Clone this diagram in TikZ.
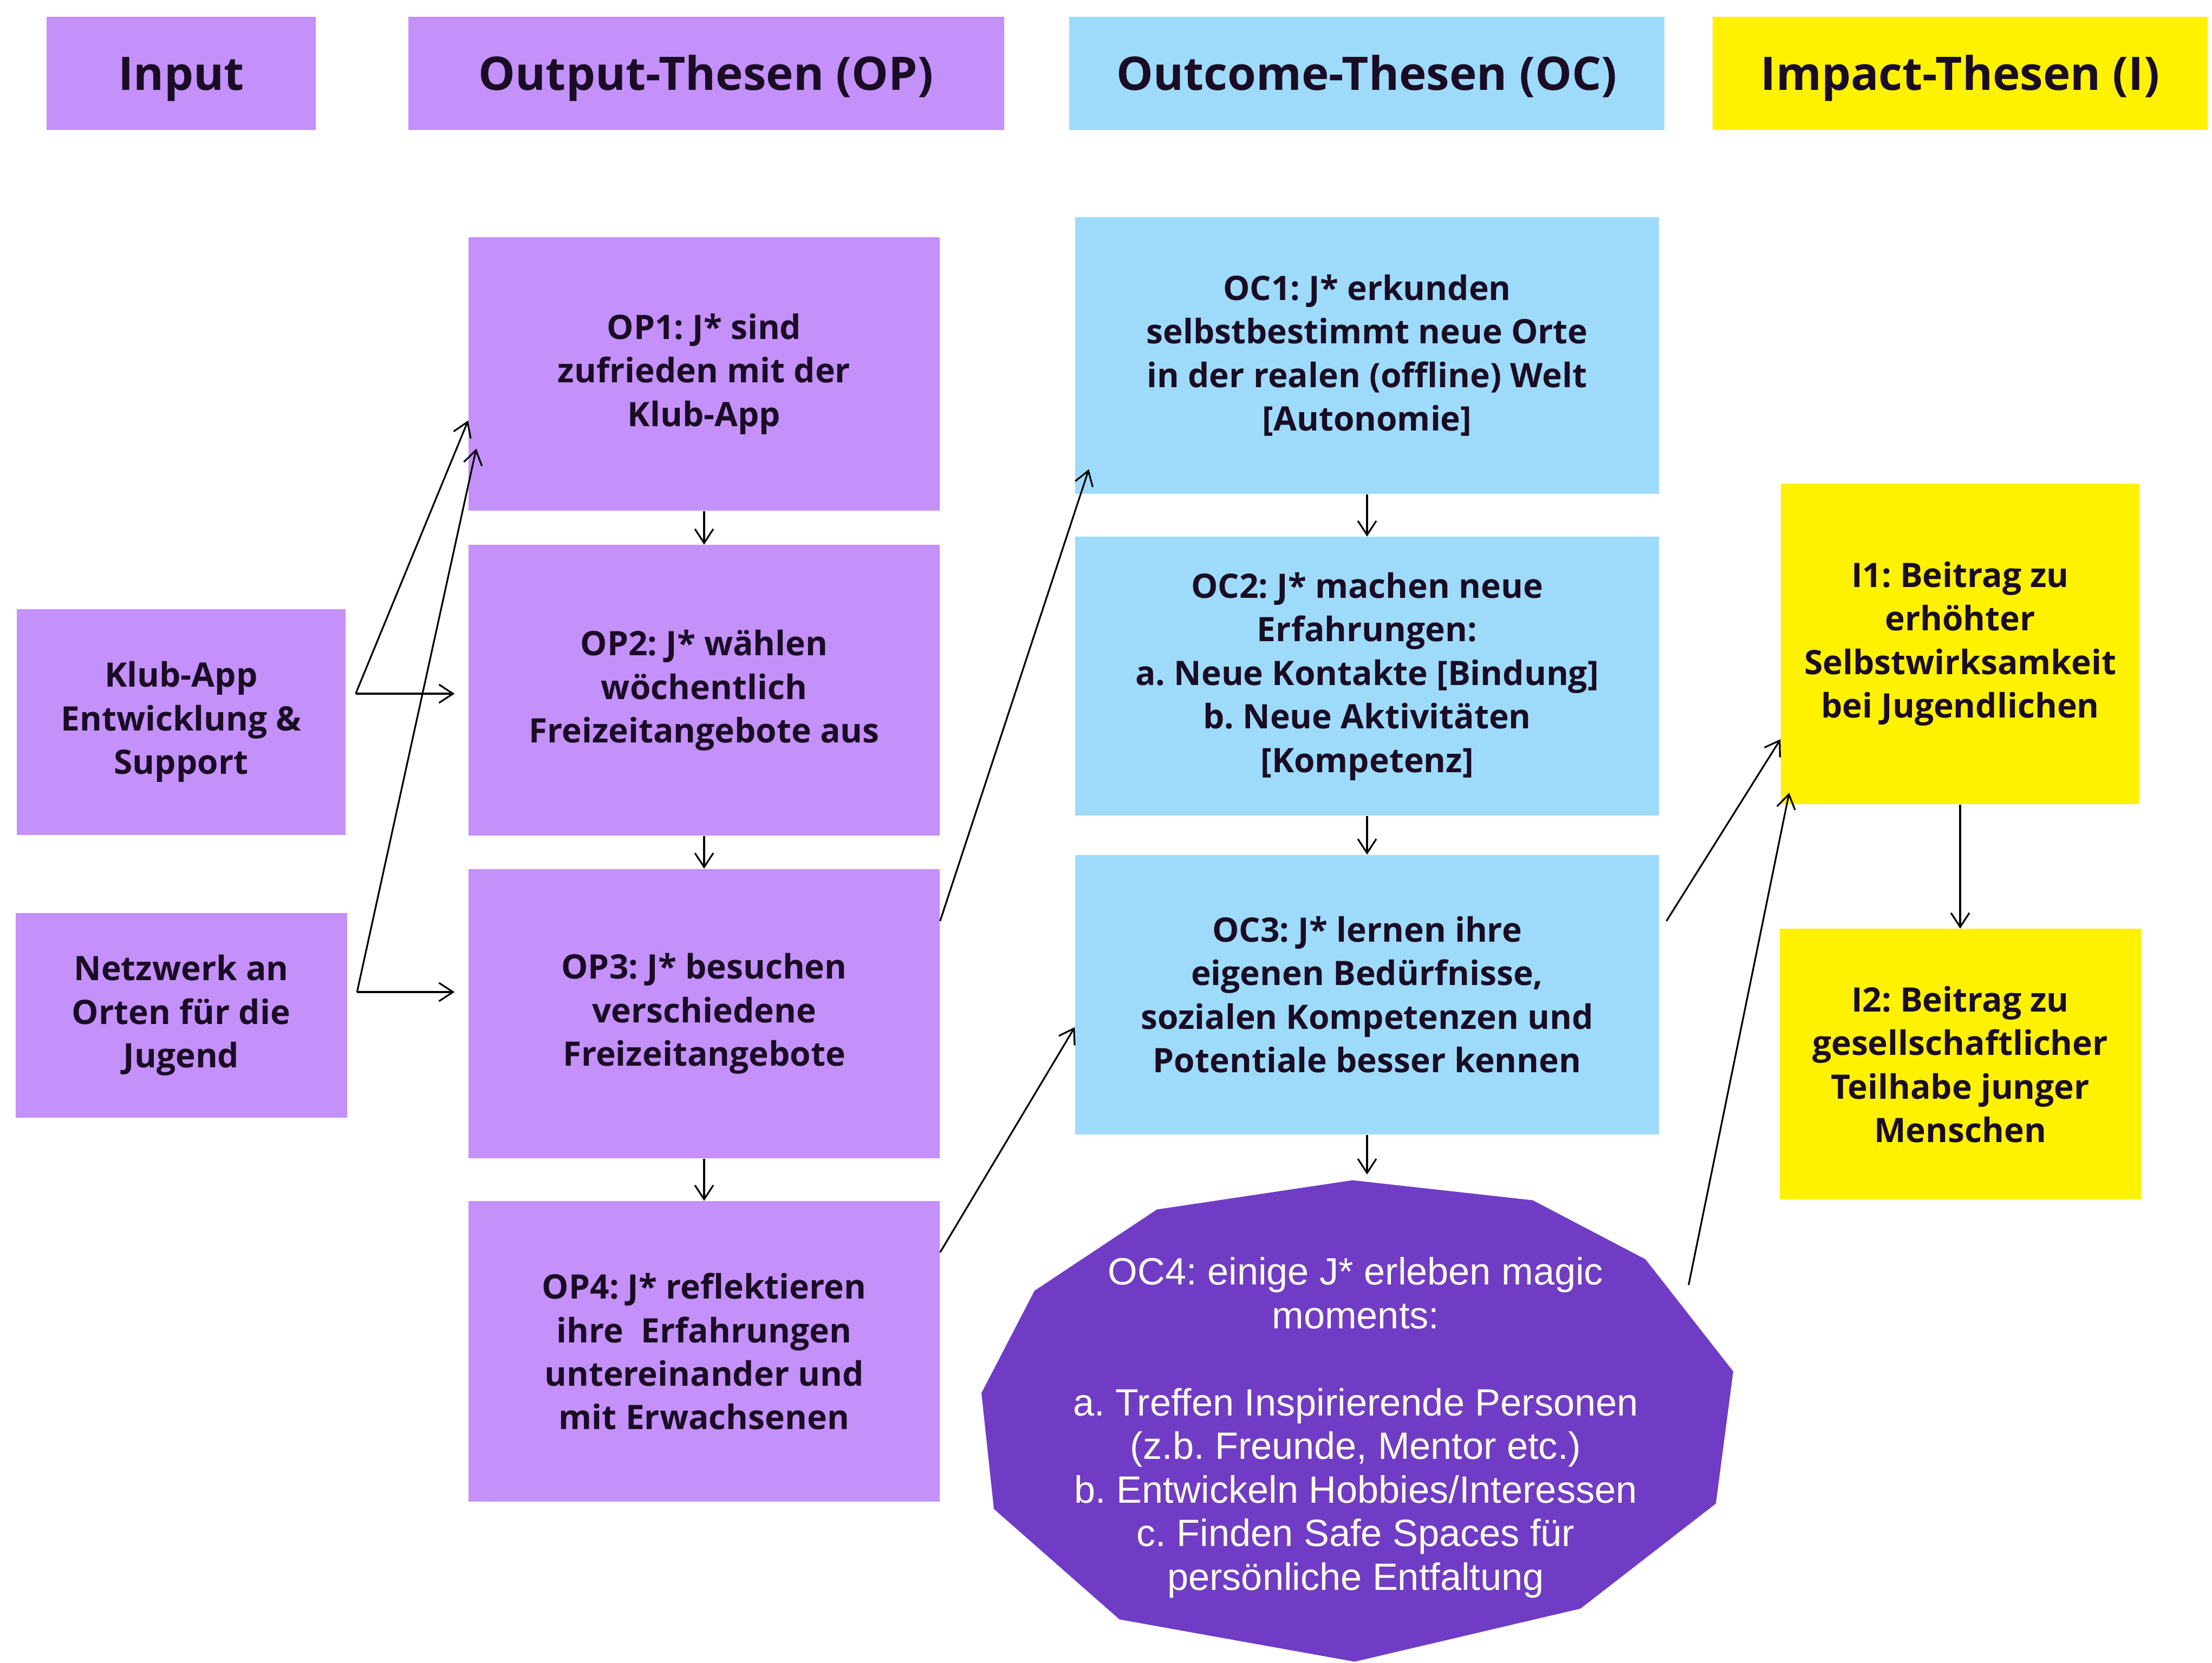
\documentclass[tikz,border=0pt]{standalone}
\usepackage{fontspec}
\setmainfont{Open Sans}
\newfontfamily\magicfont{Liberation Sans}
\usetikzlibrary{shapes,arrows.meta,positioning,calc}
\definecolor{oplila}{RGB}{196,144,250}
\definecolor{ocblau}{RGB}{158,219,250}
\definecolor{impactgelb}{RGB}{255,242,0}
\definecolor{magiclila}{RGB}{112,60,198}
\definecolor{schrift}{RGB}{26,12,36}
\definecolor{magicschrift}{RGB}{255,253,235}
\frenchspacing
\tikzset{
    head/.style={rectangle, inner sep=0pt, minimum height=2.09cm, text height=0.8cm, text depth=0.17cm, text=schrift, font=\fontsize{24.3}{28}\selectfont\bfseries},
    block/.style={rectangle, inner sep=0pt, align=center, text=schrift, font=\fontsize{17.7}{22.9}\selectfont\bfseries},
    magic/.style={rectangle, inner sep=0pt, align=center, minimum width=13.9cm, minimum height=8.2cm, text=magicschrift, font=\magicfont\fontsize{20}{22.9}\selectfont},
    line/.style={draw, line width=0.9pt, -{Straight Barb[length=2.6mm,width=3.4mm]}}
}

\begin{document}
\begin{tikzpicture}
    \fill[white] (0,0) rectangle (40.84,-30.70);
    \useasboundingbox (0,0) rectangle (40.84,-30.70);

    % Headers
    \node [head, fill=oplila, minimum width=4.97cm] (hin) at (3.345,-1.35) {Input};
    \node [head, fill=oplila, minimum width=11.0cm] (hop) at (13.035,-1.35) {Output-Thesen (OP)};
    \node [head, fill=ocblau, minimum width=10.99cm] (hoc) at (25.235,-1.35) {Outcome-Thesen (OC)};
    \node [head, fill=impactgelb, minimum width=9.14cm] (him) at (36.19,-1.35) {Impact-Thesen (I)};

    % Input
    \node [block, fill=oplila, minimum width=6.07cm, minimum height=4.17cm] (klub) at (3.345,-13.33) {Klub-App\\Entwicklung \&\\Support};
    \node [block, fill=oplila, minimum width=6.12cm, minimum height=3.78cm, below=1.43cm of klub] (netz) {Netzwerk an\\Orten für die\\Jugend};

    % Output-Thesen
    \node [block, fill=oplila, minimum width=8.7cm, minimum height=5.05cm] (op1) at (13.0,-6.905) {OP1: J* sind\\zufrieden mit der\\Klub-App};
    \node [block, fill=oplila, minimum width=8.7cm, minimum height=5.37cm, below=0.62cm of op1] (op2) {OP2: J* wählen\\wöchentlich\\Freizeitangebote aus};
    \node [block, fill=oplila, minimum width=8.7cm, minimum height=5.34cm, below=0.6cm of op2] (op3) {OP3: J* besuchen\\verschiedene\\Freizeitangebote};
    \node [block, fill=oplila, minimum width=8.7cm, minimum height=5.55cm, below=0.78cm of op3] (op4) {OP4: J* reflektieren\\ihre\ \ Erfahrungen\\untereinander und\\mit Erwachsenen};

    % Outcome-Thesen
    \node [block, fill=ocblau, minimum width=10.78cm, minimum height=5.11cm] (oc1) at (25.24,-6.565) {OC1: J* erkunden\\selbstbestimmt neue Orte\\in der realen (offline) Welt\\{[Autonomie]}};
    \node [block, fill=ocblau, minimum width=10.78cm, minimum height=5.15cm, below=0.78cm of oc1] (oc2) {OC2: J* machen neue\\Erfahrungen:\\a. Neue Kontakte [Bindung]\\b. Neue Aktivitäten\\{[Kompetenz]}};
    \node [block, fill=ocblau, minimum width=10.78cm, minimum height=5.16cm, below=0.71cm of oc2] (oc3) {OC3: J* lernen ihre\\eigenen Bedürfnisse,\\sozialen Kompetenzen und\\Potentiale besser kennen};
    % magic moments polygon
    \coordinate (oc4c) at ([xshift=-0.21cm,yshift=-4.94cm]oc3.south);
    \fill[magiclila, shift={(oc4c)}] (-0.06,4.10) -- (3.27,3.73) -- (5.35,2.64) -- (6.97,0.57) -- (6.65,-1.87) -- (4.15,-3.81) -- (-0.02,-4.79) -- (-4.36,-4.01) -- (-6.68,-1.97) -- (-6.91,0.17) -- (-5.93,2.06) -- (-3.67,3.56) -- cycle;
    \node [magic] (oc4) at (oc4c) {\rule{0pt}{41pt}OC4: einige J* erleben magic\\moments:\\[22.9pt]a. Treffen Inspirierende Personen\\(z.b. Freunde, Mentor etc.)\\b. Entwickeln Hobbies/Interessen\\c. Finden Safe Spaces für\\persönliche Entfaltung};

    % Impact-Thesen
    \node [block, fill=impactgelb, minimum width=6.62cm, minimum height=5.92cm] (i1) at (36.19,-11.89) {I1: Beitrag zu\\erhöhter\\Selbstwirksamkeit\\bei Jugendlichen};
    \node [block, fill=impactgelb, minimum width=6.67cm, minimum height=5.0cm, below=2.29cm of i1] (i2) {I2: Beitrag zu\\gesellschaftlicher\\Teilhabe junger\\Menschen};

    % Input -> Output
    \coordinate (kb) at ([xshift=0.18cm,yshift=0.52cm]klub.east);
    \coordinate (nb) at ([xshift=0.18cm,yshift=0.43cm]netz.east);
    \draw [line] (kb) -- ([yshift=-0.86cm]op1.west);
    \draw [line, shorten >=0.25cm] (kb) -- (kb -| op2.west);
    \draw [line] (nb) -- ([xshift=0.15cm,yshift=-1.38cm]op1.west);
    \draw [line, shorten >=0.25cm] (nb) -- (nb -| op3.west);

    % Output column
    \draw [line] (op1) -- (op2);
    \draw [line] (op2) -- (op3);
    \draw [line] (op3) -- (op4);

    % Output -> Outcome
    \draw [line] ([yshift=1.71cm]op3.east) -- ([xshift=0.26cm,yshift=-2.1cm]oc1.west);
    \draw [line] ([yshift=1.83cm]op4.east) -- ([yshift=-0.6cm]oc3.west);

    % Outcome column
    \draw [line] (oc1) -- (oc2);
    \draw [line] (oc2) -- (oc3);
    \draw [line, shorten >=0.1cm] (oc3) -- (oc3 |- oc4.north);

    % Outcome -> Impact
    \draw [line] ([xshift=0.13cm,yshift=1.36cm]oc3.east) -- ([yshift=-1.76cm]i1.west);
    \draw [line] ([xshift=-0.81cm,yshift=-1.94cm]oc4.north east) -- ([xshift=0.16cm,yshift=-2.75cm]i1.west);
    \draw [line] (i1) -- (i2);
\end{tikzpicture}
\end{document}
